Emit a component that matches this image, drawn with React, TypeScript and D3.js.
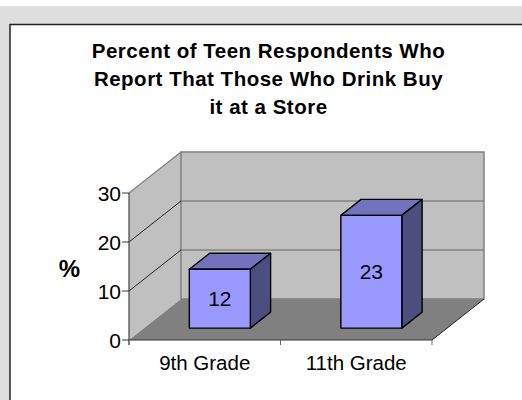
import React from "react";
import * as d3 from "d3";

const categories = ["9th Grade", "11th Grade"];
const values = [12, 23];
const yTicks = [0, 10, 20, 30];
const titleLines = [
  "Percent of Teen Respondents Who",
  "Report That Those Who Drink Buy",
  "it at a Store",
];

const font = "Liberation Sans, Arial, sans-serif";
const W = 522, H = 400;
const x = d3.scaleBand<string>().domain(categories).range([129, 432]);
const y = d3.scaleLinear().domain([0, 30]).range([340, 193]);
const depth = d3.scaleLinear().domain([0, 1]).range([0, 1]);
const DX = 52, DY = -41;
const proj = (px: number, py: number, z: number): [number, number] => [
  px + depth(z) * DX,
  py + depth(z) * DY,
];
const poly = (pts: [number, number][]) => d3.line()(pts)! + "Z";

const barFront = 0.29, barBack = 0.68, barWidth = 61;

export default function App() {
  const x0 = 129, x1 = 432, y0 = y(0), yTop = y(30);
  return (
    <svg
      width={W}
      height={H}
      viewBox={`0 0 ${W} ${H}`}
      style={{ position: "absolute", left: 0, top: 0, display: "block" }}
    >
      <rect x={0} y={0} width={W} height={H} fill="#ffffff" />
      <rect x={0} y={6} width={W} height={H - 6} fill="#dedede" />
      <rect x={10} y={24.5} width={W + 20} height={H} fill="#ffffff" stroke="#222" strokeWidth={1.5} />
      {titleLines.map((t, i) => (
        <text key={t} x={268.5} y={58 + i * 28.2} textAnchor="middle" fontFamily={font} fontWeight="bold" fontSize={20.5} letterSpacing={0.5}>
          {t}
        </text>
      ))}
      {/* walls */}
      <path d={poly([proj(x0, y0, 0), proj(x0, yTop, 0), proj(x0, yTop, 1), proj(x0, y0, 1)])} fill="#c0c0c0" />
      <path d={poly([proj(x0, y0, 1), proj(x0, yTop, 1), proj(x1, yTop, 1), proj(x1, y0, 1)])} fill="#c0c0c0" stroke="#808080" strokeWidth={1.5} />
      <path d={poly([proj(x0, y0, 0), proj(x0, y0, 1), proj(x1, y0, 1), proj(x1, y0, 0)])} fill="#808080" />
      <path d={d3.line()([proj(x1, y0, 0), proj(x1, y0, 1)])!} stroke="#222" fill="none" />
      <path d={d3.line()([proj(x0, yTop, 0), proj(x0, yTop, 1)])!} stroke="#808080" fill="none" strokeWidth={1.2} />
      {/* gridlines */}
      {yTicks.filter((t) => t > 0 && t < 30).map((t) => (
        <g key={t}>
          <path d={d3.line()([proj(x0, y(t), 0), proj(x0, y(t), 1)])!} stroke="#222" fill="none" />
          <path d={d3.line()([proj(x0, y(t), 1), proj(x1, y(t), 1)])!} stroke="#666" strokeWidth={1.2} fill="none" />
        </g>
      ))}
      {/* axes */}
      <line x1={x0} x2={x0} y1={yTop} y2={y0 + 5} stroke="#444" strokeWidth={1.2} />
      <line x1={x0} x2={x1} y1={y0} y2={y0} stroke="#333" strokeWidth={1.2} />
      {[...categories.map((c) => x(c)!), x1].map((px) => (
        <line key={px} x1={px} x2={px} y1={y0} y2={y0 + 5} stroke="#666" />
      ))}
      {yTicks.map((t) => (
        <g key={t}>
          <line x1={x0 - 7} x2={x0} y1={y(t)} y2={y(t)} stroke="#333" />
          <text x={121} y={y(t) + 7.5} textAnchor="end" fontFamily={font} fontSize={21}>
            {t}
          </text>
        </g>
      ))}
      <text x={69.5} y={276.7} textAnchor="middle" fontFamily={font} fontWeight="bold" fontSize={24}>%</text>
      {/* bars */}
      {categories.map((c, i) => {
        const cx = x(c)! + x.bandwidth() / 2;
        const l = cx - barWidth / 2, r = cx + barWidth / 2;
        const top = y(values[i]);
        const st = { stroke: "#000", strokeWidth: 1.4, strokeLinejoin: "round" as const };
        const f = proj(l, y0, barFront);
        const g = proj(r, top, barFront);
        return (
          <g key={c}>
            <path d={poly([proj(l, top, barFront), proj(r, top, barFront), proj(r, top, barBack), proj(l, top, barBack)])} fill="#7373bd" {...st} />
            <path d={poly([proj(r, top, barFront), proj(r, top, barBack), proj(r, y0, barBack), proj(r, y0, barFront)])} fill="#4d4d80" {...st} />
            <rect x={f[0]} y={g[1]} width={g[0] - f[0]} height={f[1] - g[1]} fill="#9999ff" {...st} />
            <text x={(f[0] + g[0]) / 2} y={(f[1] + g[1]) / 2 + 7.5} textAnchor="middle" fontFamily={font} fontSize={21}>
              {values[i]}
            </text>
            <text x={cx} y={370} textAnchor="middle" fontFamily={font} fontSize={20.5}>{c}</text>
          </g>
        );
      })}
    </svg>
  );
}
